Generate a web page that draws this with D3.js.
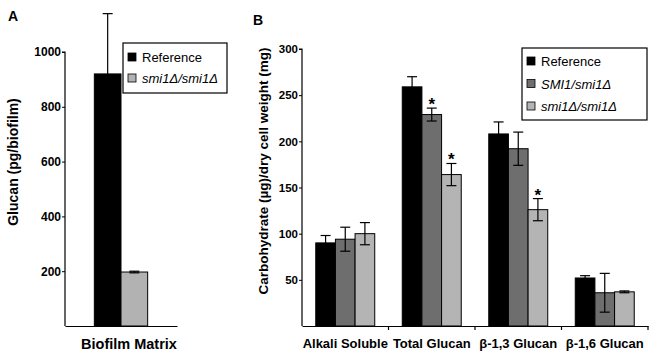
<!DOCTYPE html>
<html>
<head>
<meta charset="utf-8">
<script src="https://cdn.jsdelivr.net/npm/d3@7"></script>
<style>
  body { margin: 0; background: #fff; }
  svg { font-family: "Liberation Sans", Arial, sans-serif; }
</style>
</head>
<body>
<div id="chart"></div>
<script>
// panel A data
const catsA = ['Biofilm Matrix'];
const seriesA = ['Reference', 'smi1Δ/smi1Δ'];
const valuesA = [[920, 197]];
const errorsA = [[220, 3]];
const ticksA = [200, 400, 600, 800, 1000];

// panel B data
const catsB = ['Alkali Soluble', 'Total Glucan', 'β-1,3 Glucan', 'β-1,6 Glucan'];
const seriesB = ['Reference', 'SMI1/smi1Δ', 'smi1Δ/smi1Δ'];
const valuesB = [
  [90, 94, 100],
  [259, 229, 164],
  [208, 192, 126],
  [52, 36, 37]
];
const errorsB = [
  [8, 13, 12],
  [11, 7, 12],
  [13, 18, 12],
  [2.5, 21, 1]
];
const starsB = [[false, false, false], [false, true, true], [false, false, true], [false, false, false]];
const ticksB = [50, 100, 150, 200, 250, 300];

const colorsA = ['#000000', '#b2b2b2'];
const colorsB = ['#000000', '#6e6e6e', '#b4b4b4'];
const italic = s => s !== 'Reference';

const svg = d3.select('#chart').append('svg')
  .attr('width', 652).attr('height', 352);

function drawPanel(opts) {
  const { cats, series, values, errors, stars, ticks, colors, xr, yDomain, yr, pad, letter, ylabel, legend, tickFont, catFont, catDx } = opts;
  const g = svg.append('g');
  const x0 = d3.scaleBand().domain(cats).range(xr);
  const x1 = d3.scaleBand().domain(series).range([0, x0.bandwidth()]).paddingInner(0).paddingOuter(pad);
  const y = d3.scaleLinear().domain(yDomain).range(yr);

  // bars
  cats.forEach((c, i) => {
    series.forEach((s, j) => {
      g.append('rect')
        .attr('x', x0(c) + x1(s))
        .attr('y', y(values[i][j]))
        .attr('width', x1.bandwidth())
        .attr('height', y(0) - y(values[i][j]))
        .attr('fill', colors[j])
        .attr('stroke', '#000').attr('stroke-width', 1);
    });
  });

  // error bars
  cats.forEach((c, i) => {
    series.forEach((s, j) => {
      const cx = x0(c) + x1(s) + x1.bandwidth() / 2;
      const v = values[i][j], e = errors[i][j];
      const top = y(v + e), bot = y(v - e);
      const clip = top < 8;
      g.append('line').attr('x1', cx).attr('x2', cx)
        .attr('y1', clip ? 14 : top).attr('y2', bot)
        .attr('stroke', '#000').attr('stroke-width', 1.2);
      if (!clip) {
        [top, bot].forEach(yy => g.append('line')
          .attr('x1', cx - 5).attr('x2', cx + 5).attr('y1', yy).attr('y2', yy)
          .attr('stroke', '#000').attr('stroke-width', 1.2));
      }
      if (stars && stars[i][j]) {
        g.append('text').attr('x', cx).attr('y', top + 2)
          .attr('text-anchor', 'middle')
          .style('font-size', '17px').style('font-weight', 'bold')
          .text('*');
      }
    });
  });

  // y axis
  const yAxis = g.append('g')
    .attr('transform', `translate(${xr[0]},0)`)
    .call(d3.axisLeft(y).tickValues(ticks).tickSize(3).tickPadding(1).tickFormat(d3.format('d')));
  yAxis.select('.domain').attr('d', `M-3,${y(yDomain[1])}H0V${y(0)}`).attr('stroke', '#000').attr('stroke-width', 1.2);
  yAxis.selectAll('.tick line').attr('stroke', '#000');
  yAxis.selectAll('.tick text').style('font-size', tickFont).style('font-weight', 'bold').attr('fill', '#000');
  yAxis.attr('font-family', null);

  // x axis
  const xAxis = g.append('g')
    .attr('transform', `translate(0,${y(0)})`)
    .call(d3.axisBottom(x0).tickSize(0).tickPadding(13));
  xAxis.select('.domain').attr('stroke', '#000').attr('stroke-width', 1.2);
  xAxis.selectAll('.tick text').style('font-size', catFont).style('font-weight', 'bold').attr('fill', '#000')
    .attr('dx', catDx || 0);
  xAxis.attr('font-family', null);
  if (cats.length > 1) {
    cats.forEach((c, i) => {
      g.append('line').attr('x1', x0(c) + x0.step()).attr('x2', x0(c) + x0.step())
        .attr('y1', y(0)).attr('y2', y(0) + 4).attr('stroke', '#000').attr('stroke-width', 1.2);
    });
  }

  // panel letter and y label
  g.append('text').attr('x', letter[1]).attr('y', letter[2])
    .style('font-size', '14px').style('font-weight', 'bold').text(letter[0]);
  g.append('text')
    .attr('transform', `translate(${ylabel[1]},${ylabel[2]}) rotate(-90)`)
    .attr('text-anchor', 'middle')
    .style('font-size', ylabel[3]).style('font-weight', 'bold')
    .text(ylabel[0]);

  // legend
  const lg = g.append('g').attr('transform', `translate(${legend.x},${legend.y})`);
  lg.append('rect').attr('width', legend.w).attr('height', legend.h)
    .attr('fill', '#fff').attr('stroke', '#000').attr('stroke-width', 1.2);
  series.forEach((s, j) => {
    const yy = legend.first + j * legend.step;
    lg.append('rect').attr('x', 5).attr('y', yy - 9).attr('width', 8).attr('height', 8)
      .attr('fill', colors[j]).attr('stroke', '#000').attr('stroke-width', 0.8);
    lg.append('text').attr('x', 19).attr('y', yy)
      .style('font-size', '13px')
      .style('font-style', italic(s) ? 'italic' : 'normal')
      .text(s);
  });
}

drawPanel({
  cats: catsA, series: seriesA, values: valuesA, errors: errorsA, stars: null,
  ticks: ticksA, colors: colorsA, tickFont: '12px', catFont: '14.5px', catDx: 8,
  xr: [65, 177], yDomain: [0, 1000], yr: [326, 52], pad: 1.1,
  letter: ['A', 8, 21],
  ylabel: ['Glucan (pg/biofilm)', 18, 162, '14px'],
  legend: { x: 123, y: 43, w: 104, h: 50, first: 19, step: 21 }
});

drawPanel({
  cats: catsB, series: seriesB, values: valuesB, errors: errorsB, stars: starsB,
  ticks: ticksB, colors: colorsB, tickFont: '11.5px', catFont: '13px', catDx: 0,
  xr: [302, 648], yDomain: [0, 300], yr: [326, 49], pad: 0.7,
  letter: ['B', 253, 25],
  ylabel: ['Carbohydrate (µg)/dry cell weight (mg)', 268, 171, '13.5px'],
  legend: { x: 522, y: 48, w: 125, h: 72, first: 18, step: 22.5 }
});
</script>
</body>
</html>
